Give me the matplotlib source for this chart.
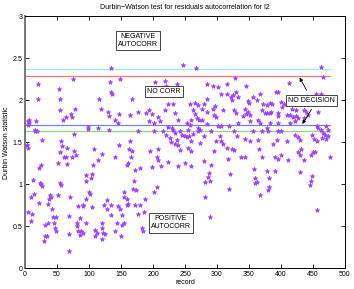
import numpy as np
import matplotlib
matplotlib.use("Agg")
import matplotlib.pyplot as plt

plt.rcParams['font.family'] = ['Liberation Sans', 'DejaVu Sans']

# Durbin-Watson bounds
dL = 1.63
dU = 1.71
n_records = 477

# (record, DW statistic)
records = [20, 75, 53, 21, 55, 115, 119, 78, 54, 72, 64, 60, 74, 6, 4, 7, 17, 5, 3,
           98, 99, 114, 15, 18, 16, 76, 27, 57, 3, 4, 58, 65, 55, 77, 80, 73, 61, 64,
           108, 114, 107, 120, 51, 65, 25, 22, 95, 104, 103, 96, 13, 23, 25, 27, 55, 57,
           100, 102, 95, 14, 9, 39, 41, 38, 52, 70, 22, 36, 83, 90, 91, 104, 124, 42, 4,
           11, 69, 44, 48, 86, 10, 36, 46, 81, 95, 121, 32, 82, 47, 49, 83, 88, 91, 86,
           109, 112, 120, 122, 69, 31, 34, 30, 110, 121, 68,
           135, 133, 148, 134, 136, 167, 203, 219, 221, 237, 247, 241, 224, 218, 232,
           129, 147, 131, 164, 177, 189, 193, 198, 208, 211, 193, 201, 141, 146, 234,
           239, 131, 177, 202, 215, 224, 229, 232, 234, 220, 242, 245, 227, 237, 228,
           234, 239, 164, 147, 162, 167, 208, 195, 242, 140, 166, 161, 159, 206, 208,
           223, 212, 199, 239, 250, 172, 180, 171, 169, 174, 206, 202, 154, 155, 159,
           128, 135, 145, 148, 159, 161, 172, 180, 188, 128, 135, 151, 186, 177, 154,
           151, 143, 183, 185, 141, 125, 150, 202,
           267, 285, 294, 301, 315, 328, 345, 329, 325, 306, 315, 322, 323, 333, 357,
           362, 349, 350, 367, 372, 284, 258, 266, 270, 279, 277, 294, 297, 263, 266,
           284, 310, 326, 329, 344, 348, 346, 352, 371, 375, 296, 299, 340, 260, 268,
           272, 276, 253, 258, 284, 302, 307, 318, 333, 352, 364, 367, 270, 273, 271,
           255, 250, 253, 256, 291, 326, 357, 371, 263, 260, 280, 305, 331, 344, 352,
           364, 299, 306, 310, 273, 255, 259, 315, 323, 327, 296, 366, 337, 343, 370,
           317, 279, 291, 259, 358, 287, 286, 289, 320, 359, 362, 360, 281, 319, 367,
           282, 289,
           463, 465, 412, 392, 395, 454, 463, 378, 383, 386, 400, 404, 402, 417, 423,
           436, 439, 458, 378, 383, 385, 396, 395, 409, 414, 419, 424, 427, 422, 442,
           436, 383, 396, 414, 378, 380, 396, 400, 456, 458, 463, 466, 469, 471, 474,
           473, 422, 427, 430, 448, 452, 456, 464, 470, 393, 388, 409, 432, 427, 430,
           436, 450, 453, 447, 477, 391, 395, 400, 411, 378, 391, 381, 381, 379, 430,
           448, 447, 445, 456]
dw = [2.20, 2.25, 2.13, 2.02, 2.01, 2.02, 1.90, 1.90, 1.88, 1.84, 1.80, 1.77, 1.80,
      1.77, 1.75, 1.73, 1.75, 1.71, 1.47,
      1.68, 1.66, 1.67, 1.65, 1.64, 1.63, 1.60, 1.53, 1.51, 1.47, 1.43, 1.46, 1.43,
      1.39, 1.40, 1.35, 1.32, 1.32, 1.32, 1.42, 1.29, 1.23, 1.36, 1.25, 1.24, 1.23,
      1.19, 1.11, 1.12, 1.07, 1.04, 1.05, 1.02, 1.00, 0.98, 1.02, 0.99, 0.91, 0.89,
      0.83, 0.89, 0.85, 0.87, 0.85, 0.82, 0.87, 0.85, 0.78, 0.77, 0.74, 0.74, 0.75,
      0.73, 0.75, 0.71, 0.67, 0.65, 0.62, 0.61, 0.61, 0.60, 0.56, 0.54, 0.54, 0.54,
      0.54, 0.54, 0.52, 0.50, 0.48, 0.44, 0.45, 0.44, 0.42, 0.40, 0.46, 0.42, 0.48,
      0.42, 0.41, 0.39, 0.38, 0.33, 0.39, 0.35, 0.21,
      2.38, 2.22, 2.25, 2.10, 2.08, 2.02, 2.22, 2.23, 2.17, 2.19, 2.42, 2.06, 1.96,
      1.88, 1.96, 1.86, 1.84, 1.81, 1.83, 1.86, 1.85, 1.89, 1.84, 1.80, 1.75, 1.75,
      1.73, 1.76, 1.73, 1.85, 1.76, 1.65, 1.64, 1.63, 1.63, 1.68, 1.67, 1.65, 1.61,
      1.59, 1.63, 1.59, 1.55, 1.53, 1.50, 1.48, 1.47, 1.51, 1.47, 1.42, 1.40, 1.42,
      1.40, 1.41, 1.32, 1.33, 1.25, 1.23, 1.33, 1.29, 1.27, 1.22, 1.21, 1.22, 1.25,
      1.17, 1.19, 1.04, 0.95, 0.93, 0.97, 0.91, 0.91, 0.85, 0.83, 0.81, 0.75, 0.74,
      0.71, 0.75, 0.77, 0.75, 0.75, 0.82, 0.71, 0.63, 0.63, 0.67, 0.65, 0.54, 0.52,
      0.54, 0.48, 0.45, 0.44, 0.41, 0.38, 0.58,
      2.38, 2.20, 2.17, 2.16, 2.20, 2.26, 2.17, 2.10, 2.06, 2.08, 2.08, 2.04, 2.00,
      2.04, 2.04, 2.00, 1.99, 1.97, 2.08, 1.96, 2.01, 1.96, 1.97, 1.94, 1.96, 1.90,
      1.90, 1.93, 1.88, 1.84, 1.86, 1.88, 1.88, 1.85, 1.90, 1.86, 1.84, 1.83, 1.89,
      1.85, 1.83, 1.80, 1.81, 1.77, 1.79, 1.76, 1.77, 1.73, 1.71, 1.72, 1.69, 1.69,
      1.69, 1.73, 1.75, 1.77, 1.73, 1.67, 1.65, 1.63, 1.65, 1.58, 1.56, 1.57, 1.64,
      1.64, 1.63, 1.64, 1.60, 1.51, 1.58, 1.58, 1.58, 1.54, 1.52, 1.53, 1.52, 1.52,
      1.48, 1.49, 1.43, 1.40, 1.43, 1.42, 1.41, 1.40, 1.42, 1.32, 1.33, 1.32, 1.30,
      1.28, 1.23, 1.22, 1.18, 1.14, 1.09, 1.04, 1.12, 1.07, 1.03, 1.02, 1.03, 0.95,
      0.87, 0.85, 0.61,
      2.40, 2.28, 2.21, 2.10, 2.10, 2.08, 2.08, 1.94, 1.97, 1.96, 1.98, 1.96, 1.92,
      1.90, 1.89, 1.89, 1.86, 1.86, 1.85, 1.85, 1.86, 1.85, 1.81, 1.83, 1.83, 1.80,
      1.81, 1.79, 1.75, 1.83, 1.79, 1.73, 1.73, 1.73, 1.67, 1.64, 1.63, 1.64, 1.69,
      1.67, 1.65, 1.61, 1.59, 1.69, 1.65, 1.57, 1.59, 1.56, 1.53, 1.59, 1.54, 1.51,
      1.55, 1.54, 1.53, 1.48, 1.51, 1.42, 1.38, 1.35, 1.29, 1.39, 1.39, 1.35, 1.32,
      1.32, 1.30, 1.35, 1.29, 1.16, 1.16, 1.07, 0.97, 0.93, 1.15, 1.10, 1.04, 0.99,
      0.70]

fig = plt.figure(figsize=(3.54, 2.89), dpi=100)
ax = fig.add_axes([0.0706, 0.0716, 0.904, 0.872])

# bound lines
ax.plot([0, n_records], [4 - dL, 4 - dL], color='#99eedd', lw=0.9)
ax.plot([0, n_records], [4 - dU, 4 - dU], color='#ff7070', lw=0.9)
ax.plot([0, n_records], [dU, dU], color='#7080ff', lw=0.9)
ax.plot([0, n_records], [dL, dL], color='#8fd47f', lw=0.9)

ax.plot(records, dw, linestyle='none', marker='*', markersize=3.3,
        color='#a040ff', markeredgewidth=0.5)

box = dict(boxstyle='square,pad=0.3', fc='white', ec='#444444', lw=0.7)
ax.text(177, 2.71, 'NEGATIVE\nAUTOCORR', fontsize=5, ha='center', va='center',
        multialignment='center', bbox=box)
ax.text(217, 2.10, 'NO CORR', fontsize=5, ha='center', va='center', bbox=box)
ax.text(228, 0.54, 'POSITIVE\nAUTOCORR', fontsize=5, ha='center', va='center',
        multialignment='center', bbox=box)
ax.text(447, 2.00, 'NO DECISION', fontsize=5, ha='center', va='center', bbox=box)

arrow = dict(arrowstyle='-|>', color='black', lw=0.6, mutation_scale=5)
ax.annotate('', xy=(427, 2.30), xytext=(442, 2.09), arrowprops=arrow)
ax.annotate('', xy=(431, 1.69), xytext=(450, 1.92), arrowprops=arrow)

ax.set_xlim(0, 500)
ax.set_ylim(0, 3)
ax.set_xticks(np.arange(0, 501, 50))
ax.set_yticks([0, 0.5, 1, 1.5, 2, 2.5, 3])
ax.set_yticklabels(['0', '0.5', '1', '1.5', '2', '2.5', '3'])
ax.tick_params(direction='in', length=3, width=0.6, labelsize=5, pad=2,
               top=True, right=True)
for s in ax.spines.values():
    s.set_linewidth(0.7)
ax.spines['left'].set_color('#777777')
ax.spines['left'].set_linewidth(1.4)

ax.set_title('Durbin\u2212Watson test for residuals autocorrelation for l2',
             fontsize=5, pad=5)
ax.set_xlabel('record', fontsize=5, labelpad=1)
ax.set_ylabel('Durbin Watson statistic', fontsize=5, labelpad=2)

fig.savefig('out.png', dpi=100)
